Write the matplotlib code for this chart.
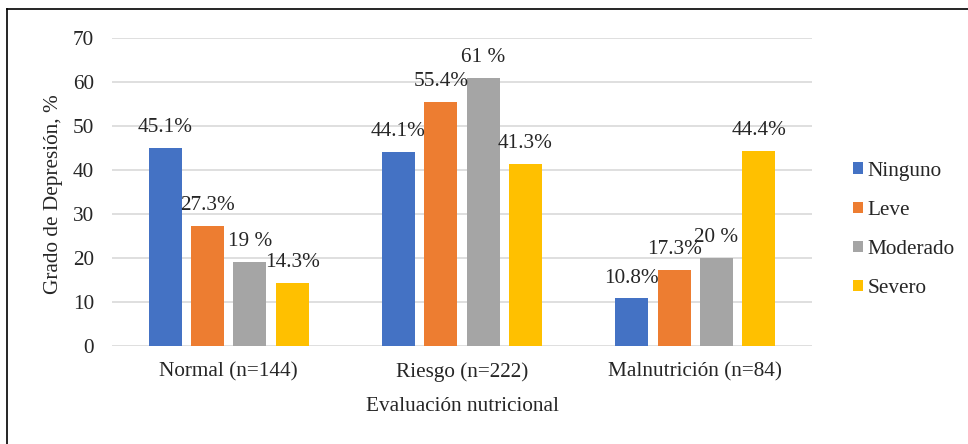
import numpy as np
import matplotlib
matplotlib.use("Agg")
import matplotlib.pyplot as plt
from matplotlib.lines import Line2D
from matplotlib.patches import Patch
from matplotlib.font_manager import FontProperties

plt.rcParams['font.family'] = ['Liberation Serif', 'DejaVu Serif']

grupos = ['Normal (n=144)', 'Riesgo (n=222)', 'Malnutrición (n=84)']
grados = ['Ninguno', 'Leve', 'Moderado', 'Severo']
ninguno = [45.1, 44.1, 10.8]
leve = [27.3, 55.4, 17.3]
moderado = [19, 61, 20]
severo = [14.3, 41.3, 44.4]
colores = ['#4472C4', '#ED7D31', '#A5A5A5', '#FFC000']

series = [ninguno, leve, moderado, severo]
fs = 15.3
txt = '#262626'

fig = plt.figure(figsize=(9.68, 4.44), dpi=100)
ax = fig.add_axes([112/968, 1-346/444, 700/968, 308/444])

x = np.arange(len(grupos))
paso = 0.1814
ancho = 0.1414
for i, (vals, col) in enumerate(zip(series, colores)):
    pos = x + (i - 1.5)*paso
    ax.bar(pos, vals, ancho, color=col, zorder=3)
    for p, v in zip(pos, vals):
        etiqueta = f"{v:g} %" if float(v).is_integer() else f"{v}%"
        ax.annotate(etiqueta, (p, v), xytext=(0, 11.5), textcoords='offset points',
                    ha='center', va='baseline', fontsize=fs, color=txt, zorder=4)

ax.set_xlim(-0.5, 2.5)
ax.set_ylim(0, 70)
ax.set_yticks(range(0, 71, 10))
ax.set_xticks(x)
ax.set_xticklabels(grupos)
ax.tick_params(axis='both', length=0, labelsize=fs, labelcolor=txt)
ax.tick_params(axis='y', pad=13)
ax.tick_params(axis='x', pad=12)
ax.grid(axis='y', color='#D9D9D9', linewidth=1.2, zorder=0)
for s in ax.spines.values():
    s.set_visible(False)

fig.text(54/968, 1-194/444, 'Grado de Depresión, %', rotation=90, ha='center',
         va='center', fontsize=fs, color=txt)
fig.text(462/968, 1-411/444, 'Evaluación nutricional', ha='center',
         va='baseline', fontsize=fs, color=txt)

handles = [Patch(facecolor=c, edgecolor='none') for c in colores]
leg = fig.legend(handles, grados, loc='center left', bbox_to_anchor=(853/968, 1-230/444),
                 frameon=False, prop=FontProperties(family='Liberation Serif', size=fs),
                 handlelength=0.45, handleheight=0.45, handletextpad=0.25,
                 labelspacing=0.95, borderpad=0, borderaxespad=0, labelcolor=txt)
for t in leg.get_texts():
    t.set_fontfamily('Liberation Serif')

# marco exterior
fig.add_artist(Line2D([7/968, 7/968], [0, 1-9/444], color='black', linewidth=1.2,
                      transform=fig.transFigure))
fig.add_artist(Line2D([7/968, 1], [1-9/444, 1-9/444], color='black', linewidth=1.2,
                      transform=fig.transFigure))

fig.savefig('out.png', dpi=100)
